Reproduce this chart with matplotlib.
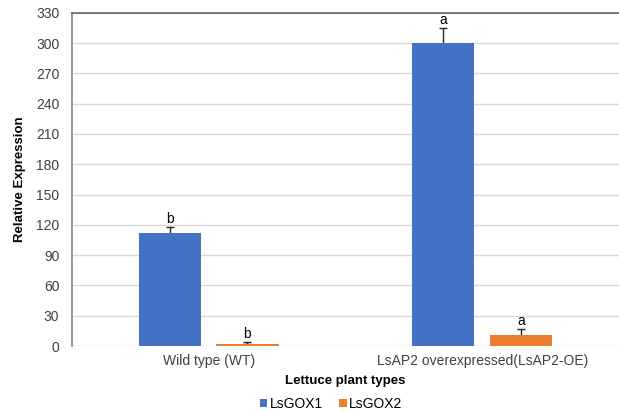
import numpy as np
import matplotlib.pyplot as plt

plt.rcParams['font.family'] = ['Liberation Sans', 'DejaVu Sans']

plant_types = ['Wild type (WT)', 'LsAP2 overexpressed(LsAP2-OE)']
gox1 = [112, 300]
gox2 = [2.5, 10.5]
gox1_err = [6, 15]
gox2_err = [1.5, 6]
gox1_letters = ['b', 'a']
gox2_letters = ['b', 'a']

fig = plt.figure(figsize=(6.19, 4.13), dpi=100)
ax = fig.add_axes([0.116, 0.162, 0.884, 0.807])

x = np.arange(len(plant_types))
width = 0.227
offset = 0.142

ax.bar(x - offset, gox1, width, color='#4472C4', label='LsGOX1', zorder=3)
ax.bar(x + offset, gox2, width, color='#ED7D31', label='LsGOX2', zorder=3)

# upward-only error bars, drawn behind the bars so the lower cap is hidden
ax.errorbar(x - offset, gox1, yerr=[[0.8, 0.8], gox1_err], fmt='none',
            ecolor='#262626', elinewidth=1, capsize=3, capthick=1, zorder=2.5)
ax.errorbar(x + offset, gox2, yerr=[[0.8, 0.8], gox2_err], fmt='none',
            ecolor='#262626', elinewidth=1, capsize=3, capthick=1, zorder=2.5)

for xi, v, e, s in zip(x - offset, gox1, gox1_err, gox1_letters):
    ax.text(xi, v + e + 1, s, ha='center', va='bottom', fontsize=10)
for xi, v, e, s in zip(x + offset, gox2, gox2_err, gox2_letters):
    ax.text(xi, v + e + 1, s, ha='center', va='bottom', fontsize=10)

ax.set_xlim(-0.5, 1.5)
ax.set_ylim(0, 330)
ax.set_yticks(np.arange(0, 331, 30))
ax.set_xticks(x)
ax.set_xticklabels(plant_types)
ax.tick_params(axis='both', length=0, labelsize=10, colors='#404040', pad=6)
ax.tick_params(axis='y', pad=9)

ax.yaxis.grid(True, color='#d9d9d9', linewidth=1, zorder=0)
ax.set_axisbelow(True)
for side in ['right', 'bottom']:
    ax.spines[side].set_visible(False)
ax.spines['left'].set_color('#888888')
ax.spines['left'].set_linewidth(1.2)
ax.spines['top'].set_color('#666666')
ax.spines['top'].set_linewidth(1.2)

ax.set_ylabel('Relative Expression', fontsize=9.5, fontweight='bold', labelpad=7)
ax.set_xlabel('Lettuce plant types', fontsize=9.5, fontweight='bold', labelpad=5)

fig.legend(loc='lower center', bbox_to_anchor=(0.535, -0.025), ncol=2, frameon=False,
           fontsize=10, handlelength=0.55, handleheight=0.55, handletextpad=0.15,
           columnspacing=1.2)

fig.savefig('out.png', dpi=100)
